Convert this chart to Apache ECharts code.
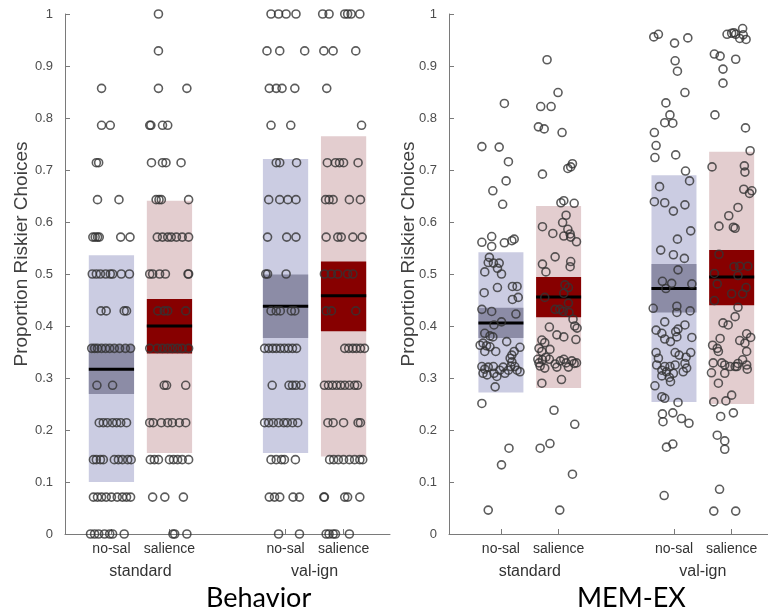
<!DOCTYPE html>
<html>
<head>
<meta charset="utf-8">
<script src="https://cdn.jsdelivr.net/npm/echarts@6/dist/echarts.min.js"></script>
<style>
html,body{margin:0;padding:0;background:#fff;}
#chart{width:768px;height:613px;}
</style>
</head>
<body>
<div id="chart"></div>
<script>
// ---------- categories ----------
const condPositions = [1, 2, 4, 5];
const condLabels = ['no-sal', 'salience', 'no-sal', 'salience'];
const groupPositions = [1.5, 4.5];
const groupLabels = ['standard', 'val-ign'];
const panelTitles = ['Behavior', 'MEM-EX'];
const yAxisName = 'Proportion Riskier Choices';
const yTickValues = [0, 0.1, 0.2, 0.3, 0.4, 0.5, 0.6, 0.7, 0.8, 0.9, 1];

// ---------- Behavior summary bands (per condition) ----------
const behBandLo = [0.100, 0.156, 0.156, 0.149];
const behBandHi = [0.536, 0.641, 0.721, 0.765];
const behSemLo  = [0.269, 0.347, 0.377, 0.390];
const behSemHi  = [0.363, 0.452, 0.499, 0.524];
const behMean   = [0.317, 0.400, 0.438, 0.458];

// ---------- MEM-EX summary bands ----------
const memBandLo = [0.272, 0.281, 0.254, 0.250];
const memBandHi = [0.542, 0.631, 0.690, 0.735];
const memSemLo  = [0.377, 0.417, 0.426, 0.440];
const memSemHi  = [0.435, 0.494, 0.519, 0.546];
const memMean   = [0.406, 0.456, 0.472, 0.494];

// ---------- Behavior individual points: [value, [jitter offsets]] ----------
const behStdNoSal = [
  [0.857, [-0.17]],
  [0.786, [-0.17, -0.02]],
  [0.714, [-0.26, -0.22]],
  [0.643, [-0.24, 0.13]],
  [0.571, [-0.32, -0.28, -0.24, -0.21, 0.16, 0.32]],
  [0.5,   [-0.33, -0.26, -0.19, -0.10, -0.02, 0.02, 0.17, 0.31]],
  [0.429, [-0.18, -0.09, 0.22, 0.26]],
  [0.357, [-0.34, -0.29, -0.24, -0.17, -0.10, -0.03, 0.05, 0.14, 0.24, 0.33]],
  [0.286, [-0.25, 0.02]],
  [0.214, [-0.21, -0.14, -0.07, 0.02, 0.09, 0.16, 0.26]],
  [0.143, [-0.31, -0.26, -0.19, -0.14, 0.05, 0.12, 0.19, 0.28, 0.34]],
  [0.071, [-0.31, -0.24, -0.17, -0.09, 0, 0.10, 0.19, 0.26, 0.33]],
  [0,     [-0.36, -0.29, -0.22, -0.12, -0.03, 0.02, 0.22]]
];
const behStdSal = [
  [1,     [-0.19]],
  [0.929, [-0.19]],
  [0.857, [-0.19, 0.30]],
  [0.786, [-0.34, -0.32, -0.12, -0.03]],
  [0.714, [-0.31, -0.12, -0.06, 0.20]],
  [0.643, [-0.23, -0.18, -0.14, 0.33]],
  [0.571, [-0.21, -0.12, -0.03, 0.03, 0.12, 0.22, 0.33]],
  [0.5,   [-0.34, -0.29, -0.17, -0.07, 0.32, 0.33]],
  [0.429, [-0.20, -0.09, -0.03, 0.28]],
  [0.357, [-0.34, -0.21, -0.12, -0.03, 0.05, 0.14, 0.22, 0.33]],
  [0.286, [-0.09, -0.05, 0.28]],
  [0.214, [-0.34, -0.28, -0.14, -0.03, 0.05, 0.17, 0.28]],
  [0.143, [-0.33, -0.26, -0.19, 0, 0.07, 0.14, 0.22, 0.33]],
  [0.071, [-0.29, -0.08, 0.24]],
  [0,     [0.06, 0.09, 0.30]]
];
const behValNoSal = [
  [1,     [-0.25, -0.12, 0.01, 0.18]],
  [0.929, [-0.32, -0.10, 0.33]],
  [0.857, [-0.28, -0.16, -0.06, 0.16]],
  [0.786, [-0.25, 0.09]],
  [0.714, [-0.16, -0.10, 0.19]],
  [0.643, [-0.29, -0.10, 0.04, 0.18]],
  [0.571, [-0.31, 0.02, 0.18]],
  [0.5,   [-0.34, -0.31, 0.01]],
  [0.429, [-0.25, -0.16, -0.09, 0.10, 0.16]],
  [0.357, [-0.36, -0.29, -0.22, -0.16, -0.09, -0.02, 0.05, 0.12, 0.19]],
  [0.286, [-0.23, 0.06, 0.12, 0.18, 0.27]],
  [0.214, [-0.36, -0.29, -0.21, -0.12, -0.03, 0.03, 0.12, 0.21]],
  [0.143, [-0.25, -0.16, -0.07, -0.02, 0.17]],
  [0.071, [-0.28, -0.19, -0.10, 0.13, 0.24]],
  [0,     [-0.12, 0.24]]
];
const behValSal = [
  [1,     [-0.36, -0.25, 0.02, 0.07, 0.13, 0.28]],
  [0.929, [-0.34, -0.18, 0.21]],
  [0.857, [-0.29]],
  [0.786, [0.31]],
  [0.714, [-0.28, -0.14, -0.07, 0, 0.25]],
  [0.643, [-0.31, -0.25, -0.18, 0.10, 0.29]],
  [0.571, [-0.30, -0.10, -0.04, 0.16, 0.32]],
  [0.5,   [-0.33, -0.21, -0.10, 0.07, 0.16]],
  [0.429, [-0.30, -0.21, 0.21]],
  [0.357, [0.02, 0.09, 0.16, 0.22, 0.29, 0.36]],
  [0.286, [-0.33, -0.26, -0.19, -0.12, -0.05, 0.02, 0.10, 0.19, 0.24]],
  [0.214, [-0.27, -0.18, 0, 0.25, 0.29]],
  [0.143, [-0.24, -0.17, -0.09, 0, 0.10, 0.19, 0.28, 0.33]],
  [0.071, [-0.34, -0.33, 0.02, 0.07, 0.28]],
  [0,     [-0.30, -0.25, -0.18, -0.14, 0.10]]
];

// ---------- MEM-EX individual points: [jitter offset, value] ----------
const memStdNoSal = [
  [0.06,0.828],[-0.33,0.745],[-0.03,0.744],[0.13,0.716],[0.09,0.679],[-0.14,0.660],[0.03,0.634],
  [-0.33,0.561],[-0.16,0.572],[-0.16,0.553],[0.06,0.560],[0.19,0.564],[0.23,0.567],[-0.20,0.532],
  [-0.22,0.522],[-0.13,0.521],[-0.03,0.521],[-0.06,0.511],[-0.28,0.504],[0.01,0.500],[-0.29,0.464],
  [-0.06,0.474],[0.20,0.476],[0.28,0.476],[0.20,0.451],[0.30,0.455],[-0.33,0.432],[-0.16,0.428],
  [0.26,0.423],[0.01,0.408],[-0.12,0.402],[-0.28,0.386],[-0.19,0.381],[-0.14,0.379],[0.10,0.370],
  [-0.36,0.363],[-0.31,0.367],[-0.25,0.362],[-0.19,0.360],[-0.28,0.351],[-0.09,0.351],[0.33,0.359],
  [0.23,0.351],[0.19,0.344],[0.16,0.338],[-0.33,0.322],[-0.28,0.317],[-0.22,0.321],[-0.31,0.309],
  [-0.24,0.306],[-0.13,0.322],[-0.12,0.309],[-0.07,0.303],[-0.02,0.315],[0.04,0.321],[0.07,0.309],
  [0.13,0.315],[0.17,0.322],[0.19,0.331],[0.24,0.322],[0.28,0.315],[0.33,0.312],[-0.10,0.283],
  [-0.33,0.251],[0.14,0.165],[0.01,0.133],[-0.22,0.046]
];
const memStdSal = [
  [-0.20,0.912],[-0.01,0.849],[-0.31,0.822],[-0.13,0.822],[-0.35,0.783],[-0.25,0.779],[0.06,0.772],
  [-0.28,0.692],[0.16,0.703],[0.21,0.706],[0.24,0.712],[0.04,0.637],[0.09,0.641],[0.27,0.636],
  [0.13,0.613],[0.07,0.599],[-0.28,0.591],[-0.10,0.578],[0.16,0.586],[0.09,0.573],[0.20,0.577],
  [0.21,0.571],[0.31,0.562],[-0.06,0.533],[-0.28,0.519],[-0.22,0.504],[0.21,0.524],[0.20,0.514],
  [0.17,0.474],[0.09,0.463],[0.11,0.479],[-0.24,0.455],[0.17,0.444],[-0.06,0.432],[0.02,0.432],
  [0.08,0.428],[0.18,0.426],[0.25,0.413],[0.28,0.400],[0.32,0.396],[-0.16,0.398],[-0.03,0.383],
  [0.09,0.379],[0.30,0.374],[-0.29,0.373],[-0.24,0.368],[-0.34,0.357],[-0.29,0.351],[-0.15,0.355],
  [-0.36,0.336],[-0.34,0.329],[-0.28,0.335],[-0.22,0.340],[-0.16,0.336],[-0.32,0.323],[-0.24,0.319],
  [-0.06,0.327],[-0.03,0.321],[0.03,0.333],[0.09,0.336],[0.13,0.329],[0.17,0.321],[0.23,0.333],
  [0.27,0.328],[0.31,0.329],[-0.29,0.290],[0.05,0.297],[-0.08,0.238],[0.28,0.211],[-0.15,0.174],
  [-0.32,0.165],[0.24,0.115],[0.02,0.046]
];
const memValNoSal = [
  [-0.35,0.956],[-0.27,0.961],[0.01,0.944],[0.24,0.954],[0.02,0.910],[0.06,0.890],[0.19,0.849],
  [-0.14,0.829],[-0.07,0.806],[-0.16,0.791],[-0.02,0.790],[-0.34,0.772],[-0.31,0.747],[-0.33,0.724],
  [0.03,0.729],[0.20,0.698],[0.27,0.679],[-0.25,0.668],[-0.34,0.639],[-0.16,0.637],[0.19,0.633],
  [-0.01,0.621],[0.29,0.583],[0.06,0.567],[-0.23,0.546],[-0.01,0.537],[0.18,0.530],[0.07,0.508],
  [-0.20,0.486],[-0.04,0.482],[0.31,0.481],[-0.14,0.472],[-0.36,0.434],[0.05,0.438],[0.28,0.429],
  [0.05,0.426],[-0.16,0.408],[0.19,0.402],[-0.31,0.392],[-0.21,0.386],[0.07,0.394],[0.03,0.389],
  [0.05,0.379],[0.31,0.378],[-0.16,0.375],[-0.06,0.370],[-0.31,0.349],[0.02,0.349],[0.09,0.344],
  [0.29,0.349],[0.21,0.340],[-0.27,0.338],[-0.30,0.325],[-0.16,0.322],[-0.07,0.322],[0.02,0.325],
  [0.19,0.328],[0.22,0.319],[-0.21,0.315],[-0.13,0.312],[-0.01,0.309],[0.16,0.312],[-0.21,0.304],
  [-0.08,0.301],[-0.06,0.293],[-0.33,0.285],[-0.21,0.264],[-0.16,0.261],[0.07,0.253],[-0.20,0.231],
  [-0.02,0.233],[-0.19,0.216],[0.13,0.222],[0.26,0.213],[-0.13,0.167],[-0.02,0.173],[-0.17,0.074]
];
const memValSal = [
  [0.19,0.972],[-0.08,0.961],[0,0.963],[0.04,0.964],[0.07,0.961],[0.14,0.953],[0.20,0.960],
  [0.25,0.951],[-0.30,0.923],[-0.20,0.919],[0.07,0.913],[-0.15,0.894],[-0.15,0.867],[-0.29,0.806],
  [0.24,0.781],[0.32,0.737],[-0.34,0.706],[0.22,0.708],[0.23,0.696],[0.21,0.663],[0.35,0.660],
  [0.31,0.655],[0.11,0.628],[-0.05,0.612],[-0.22,0.592],[0.03,0.590],[0.06,0.588],[-0.22,0.538],
  [0.04,0.514],[0.14,0.515],[0.28,0.515],[-0.30,0.501],[0.11,0.497],[-0.25,0.481],[0.25,0.474],
  [0,0.462],[0.19,0.462],[-0.30,0.449],[0.11,0.436],[0.06,0.418],[-0.15,0.406],[-0.06,0.402],
  [0.26,0.385],[0.33,0.378],[-0.20,0.376],[0.14,0.372],[0.23,0.367],[-0.33,0.363],[-0.25,0.357],
  [-0.23,0.351],[0.26,0.351],[-0.32,0.329],[-0.17,0.329],[-0.12,0.325],[-0.03,0.322],[0.06,0.322],
  [0.11,0.328],[0.19,0.335],[0.26,0.325],[0.27,0.317],[-0.35,0.310],[-0.12,0.309],[0.09,0.322],
  [-0.23,0.290],[0,0.267],[-0.31,0.254],[-0.10,0.256],[0.03,0.233],[-0.19,0.226],[-0.25,0.190],
  [-0.12,0.179],[-0.12,0.163],[-0.21,0.086],[-0.31,0.044],[0.07,0.044]
];

// ---------- styling ----------
const lightFill = ['#cbcce2', '#e3cdcf', '#cbcce2', '#e3cdcf'];
const darkFill  = ['#8c8ca6', '#870000', '#8c8ca6', '#870000'];
const HALF_W = 0.39;
const axisGrey = '#7a7a7a';
const tickTextColor = '#4d4d4d';

function behaviorPoints(groups) {
  const out = [];
  groups.forEach(function (rows, gi) {
    rows.forEach(function (row) {
      row[1].forEach(function (off) { out.push([condPositions[gi] + off, row[0]]); });
    });
  });
  return out;
}
function memPoints(groups) {
  const out = [];
  groups.forEach(function (rows, gi) {
    rows.forEach(function (p) { out.push([condPositions[gi] + p[0], p[1]]); });
  });
  return out;
}
function bandRows(lo, hi, slo, shi, mean) {
  return condPositions.map(function (x, i) { return [x, lo[i], hi[i], slo[i], shi[i], mean[i], i]; });
}

function renderBand(params, api) {
  const x = api.value(0);
  const ci = api.value(6);
  const a1 = api.coord([x - HALF_W, api.value(2)]);
  const a2 = api.coord([x + HALF_W, api.value(1)]);
  const b1 = api.coord([x - HALF_W, api.value(4)]);
  const b2 = api.coord([x + HALF_W, api.value(3)]);
  const m1 = api.coord([x - HALF_W, api.value(5)]);
  const m2 = api.coord([x + HALF_W, api.value(5)]);
  return {
    type: 'group',
    children: [
      { type: 'rect', shape: { x: a1[0], y: a1[1], width: a2[0] - a1[0], height: a2[1] - a1[1] }, style: { fill: lightFill[ci] } },
      { type: 'rect', shape: { x: b1[0], y: b1[1], width: b2[0] - b1[0], height: b2[1] - b1[1] }, style: { fill: darkFill[ci] } },
      { type: 'line', shape: { x1: m1[0], y1: m1[1], x2: m2[0], y2: m2[1] }, style: { stroke: '#000', lineWidth: 3 } }
    ]
  };
}

function yAxisFor(gi) {
  return {
    type: 'value', gridIndex: gi, min: 0, max: 1, interval: 0.1,
    axisLine: { show: true, lineStyle: { color: axisGrey, width: 1 } },
    axisTick: { show: true, inside: true, length: 5, lineStyle: { color: axisGrey } },
    axisLabel: {
      fontFamily: 'Liberation Sans', fontSize: 13, color: tickTextColor, margin: 12,
      customValues: yTickValues,
      formatter: function (v) { return (v === 0 || v === 1) ? String(v) : v.toFixed(1); }
    },
    splitLine: { show: false }
  };
}
function xAxisFor(gi, mn, mx) {
  return {
    type: 'value', gridIndex: gi, min: mn, max: mx,
    axisLine: { show: true, onZero: false, lineStyle: { color: axisGrey, width: 1 } },
    axisTick: { show: true, inside: true, length: 5, customValues: condPositions, lineStyle: { color: axisGrey } },
    axisLabel: {
      customValues: condPositions, margin: 8,
      fontFamily: 'Liberation Sans', fontSize: 14, color: '#333',
      formatter: function (v) { return condLabels[condPositions.indexOf(Math.round(v))] || ''; }
    },
    splitLine: { show: false }
  };
}
function xGroupAxisFor(gi, mn, mx) {
  return {
    type: 'value', gridIndex: gi, min: mn, max: mx, position: 'bottom',
    axisLine: { show: false }, axisTick: { show: false }, splitLine: { show: false },
    axisLabel: {
      customValues: groupPositions, margin: 30,
      fontFamily: 'Liberation Sans', fontSize: 16, color: '#333',
      formatter: function (v) { return groupLabels[groupPositions.indexOf(v)] || ''; }
    }
  };
}

const pointStyle = {
  type: 'scatter', symbol: 'circle', symbolSize: 8, silent: true, z: 5,
  itemStyle: { color: 'rgba(0,0,0,0)', borderColor: '#333', borderWidth: 1.6 }
};

const yNameStyle = { text: yAxisName, fontFamily: 'Liberation Sans', fontSize: 19, fill: '#404040',
  textAlign: 'center', textVerticalAlign: 'middle' };

const chart = echarts.init(document.getElementById('chart'));
chart.setOption({
  backgroundColor: '#fff',
  animation: false,
  grid: [
    { left: 65, right: 378, top: 14, bottom: 79 },
    { left: 449, right: 0, top: 14, bottom: 79 }
  ],
  xAxis: [
    xAxisFor(0, 0.2, 5.8),
    xAxisFor(1, 0.1, 5.63),
    xGroupAxisFor(0, 0.2, 5.8),
    xGroupAxisFor(1, 0.1, 5.63)
  ],
  yAxis: [yAxisFor(0), yAxisFor(1)],
  graphic: [
    { type: 'text', x: 22, y: 254, rotation: Math.PI / 2, style: yNameStyle },
    { type: 'text', x: 409, y: 254, rotation: Math.PI / 2, style: yNameStyle },
    { type: 'text', left: 257 - 51, top: 585, style: { text: panelTitles[0], fontFamily: 'Lato', fontSize: 27, fill: '#000' } },
    { type: 'text', left: 629 - 52, top: 585, style: { text: panelTitles[1], fontFamily: 'Lato', fontSize: 27, fill: '#000' } }
  ],
  series: [
    { type: 'custom', xAxisIndex: 0, yAxisIndex: 0, silent: true, z: 2, renderItem: renderBand,
      encode: { x: 0, y: [1, 2] },
      data: bandRows(behBandLo, behBandHi, behSemLo, behSemHi, behMean) },
    { type: 'custom', xAxisIndex: 1, yAxisIndex: 1, silent: true, z: 2, renderItem: renderBand,
      encode: { x: 0, y: [1, 2] },
      data: bandRows(memBandLo, memBandHi, memSemLo, memSemHi, memMean) },
    Object.assign({}, pointStyle, { xAxisIndex: 0, yAxisIndex: 0,
      data: behaviorPoints([behStdNoSal, behStdSal, behValNoSal, behValSal]) }),
    Object.assign({}, pointStyle, { xAxisIndex: 1, yAxisIndex: 1,
      data: memPoints([memStdNoSal, memStdSal, memValNoSal, memValSal]) })
  ]
});
</script>
</body>
</html>
